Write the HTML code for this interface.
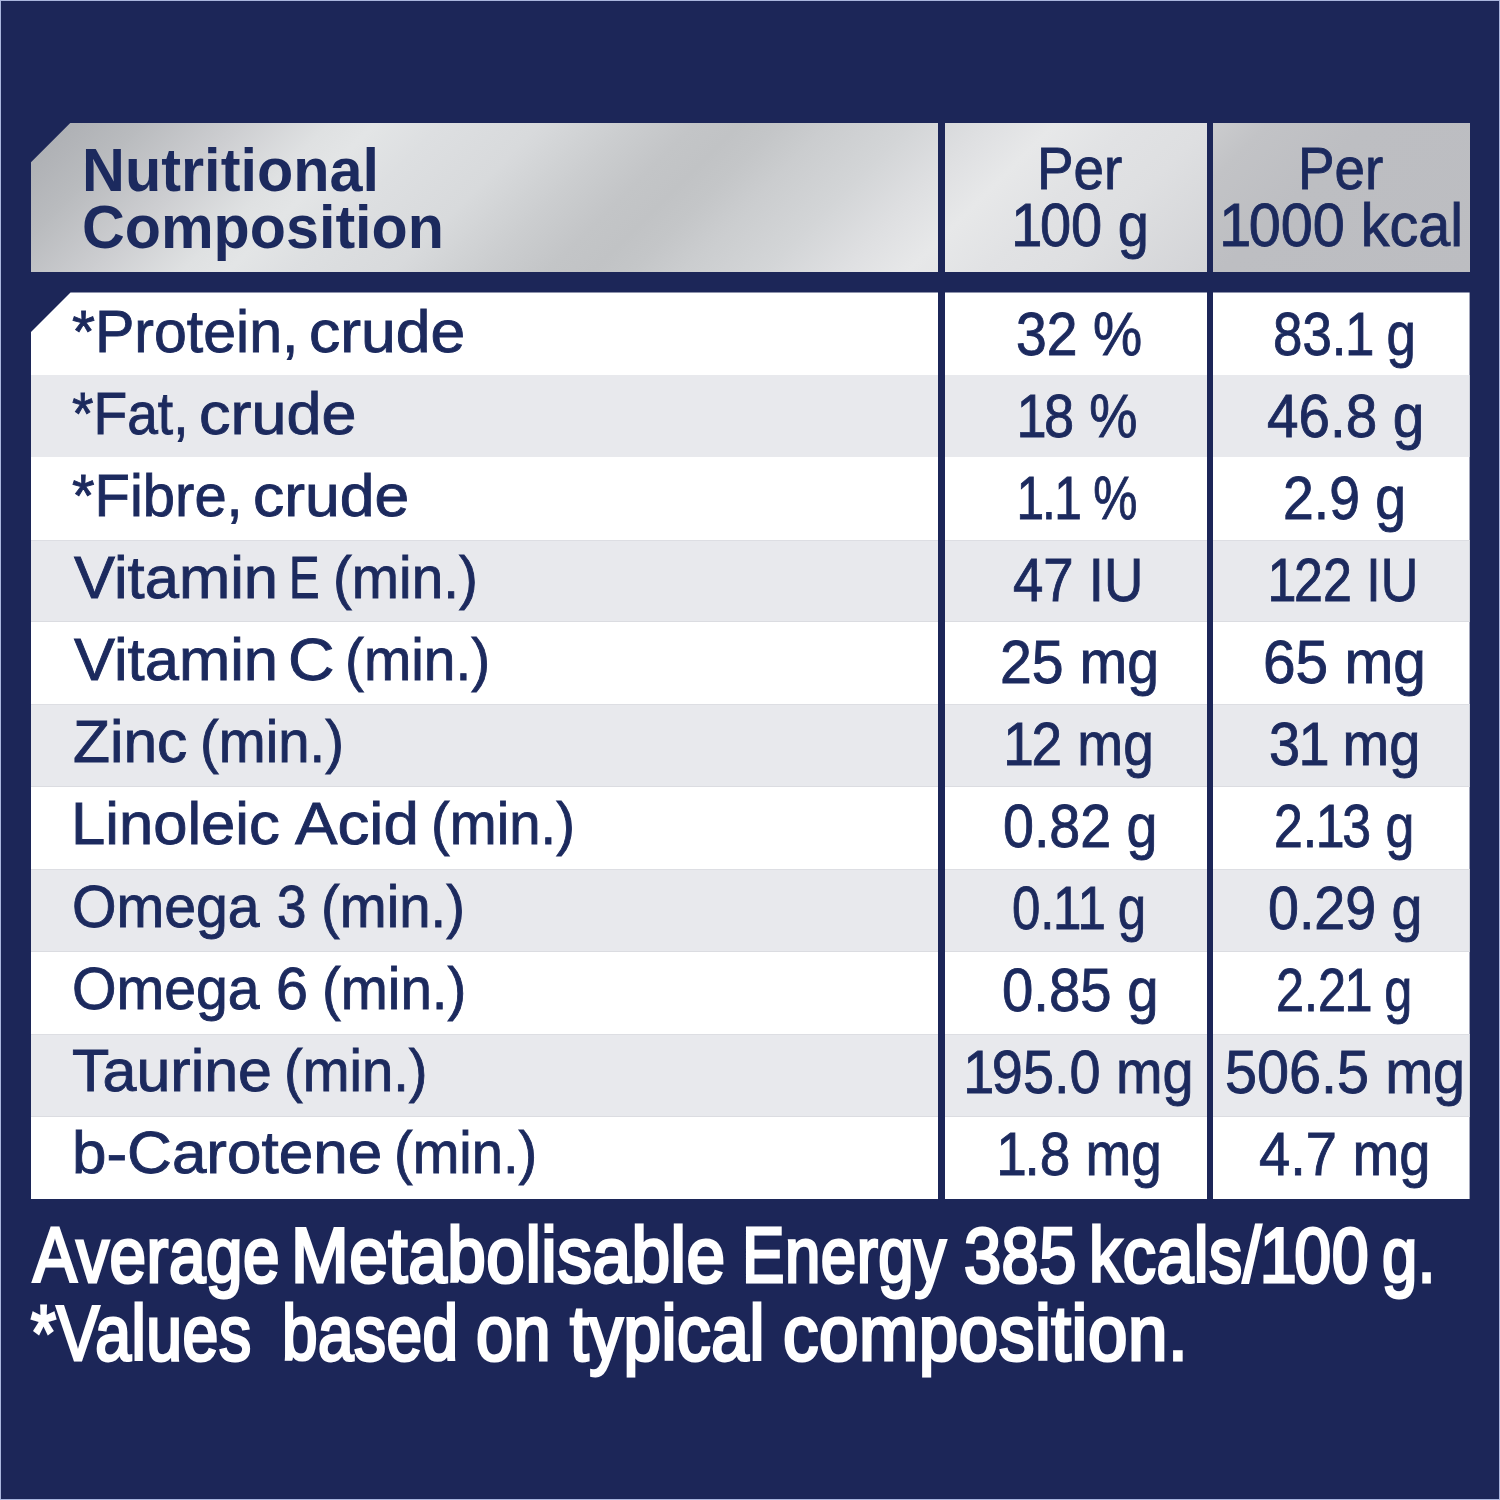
<!DOCTYPE html>
<html lang="en">
<head>
<meta charset="utf-8">
<title>Nutritional Composition</title>
<style>
html,body{margin:0;padding:0;}
body{width:1500px;height:1500px;position:relative;overflow:hidden;background:#1c2658;
  font-family:"Liberation Sans", Arial, Helvetica, sans-serif;color:#1c2a5e;}
.frame{position:absolute;left:0;top:0;width:1498px;height:1498px;border:1px solid #aab6de;pointer-events:none;}
.head{position:absolute;left:30.5px;top:122.8px;width:1176.5px;height:149.7px;
  background:linear-gradient(135deg,#aeb0b4 0px,#b0b2b6 33px,#b9bbbe 78px,#cdced1 149px,#dfe1e2 212px,#e3e5e6 244px,#dddfe1 291px,#d8dadc 361px,#cbcdcf 425px,#c3c5c7 470px,#c1c3c5 502px,#c4c6c8 530px,#cbcdcf 566px,#d3d5d7 623px,#dfe0e2 680px,#e7e8e9 725px,#e1e2e4 779px,#dedfe1 835px,#d2d3d6 940px,#c8c9cc 1202px);clip-path:polygon(40.0px 0,100% 0,100% 100%,0 100%,0 40.0px);}
.head3{position:absolute;left:1213.0px;top:122.8px;width:256.6px;height:149.7px;
  background:linear-gradient(135deg,#cbccce 0px,#c2c3c6 40px,#bdbec2 110px,#bcbdc1 300px);}
.body{position:absolute;left:30.5px;top:292.4px;width:1439.1px;height:906.6px;
  background:#fff;clip-path:polygon(40.0px 0,100% 0,100% 100%,0 100%,0 40.0px);}
.row{position:absolute;left:0;width:100%;height:82.42px;background:#e8e9ed;}
.row.e{box-shadow:inset 0 1px 0 #dddee3,inset 0 -1px 0 #dbdce1;}
.sep{position:absolute;top:122.8px;height:1076.2px;background:#1c2658;}
.g{margin:0;padding:0;height:0;}
.t{position:absolute;white-space:pre;line-height:1;transform-origin:0 0;margin:0;padding:0;}
.n1{margin-left:-0.03em;margin-right:-0.045em;}
</style>
</head>
<body>
<div class="head"></div>
<div class="head3"></div>
<div class="body">
<div class="row" style="top:82.42px"></div>
<div class="row e" style="top:247.25px"></div>
<div class="row e" style="top:412.09px"></div>
<div class="row e" style="top:576.93px"></div>
<div class="row e" style="top:741.76px"></div>
</div>
<div class="sep" style="left:938.0px;width:6.6px"></div>
<div class="sep" style="left:1207.0px;width:6.0px"></div>
<div class="g thead">
<span class="t" style="left:82.10px;top:139.75px;font-size:61px;font-weight:700;transform:scaleX(0.9741);">Nutritional</span>
<span class="t" style="left:81.79px;top:196.75px;font-size:61px;font-weight:700;transform:scaleX(0.9710);">Composition</span>
<span class="t" style="left:1036.75px;top:138.60px;font-size:60px;-webkit-text-stroke:0.9px;transform:scaleX(0.9135);">Per</span>
<span class="t" style="left:1012.77px;top:194.55px;font-size:61px;-webkit-text-stroke:0.9px;transform:scaleX(0.9168);"><span class="n1">1</span>00 g</span>
<span class="t" style="left:1298.25px;top:138.60px;font-size:60px;-webkit-text-stroke:0.9px;transform:scaleX(0.9135);">Per</span>
<span class="t" style="left:1220.51px;top:194.55px;font-size:61px;-webkit-text-stroke:0.9px;transform:scaleX(0.9430);"><span class="n1">1</span>000 kcal</span>
</div>
<div class="g tr">
<span class="t" style="left:71.82px;top:302.00px;font-size:60px;-webkit-text-stroke:0.9px;transform:scaleX(0.9839);">*Protein,</span>
<span class="t" style="left:309.12px;top:302.00px;font-size:60px;-webkit-text-stroke:0.9px;transform:scaleX(1.0411);">crude</span>
<span class="t" style="left:1015.59px;top:303.65px;font-size:61px;-webkit-text-stroke:0.9px;transform:scaleX(0.9067);">32 %</span>
<span class="t" style="left:1273.07px;top:303.65px;font-size:61px;-webkit-text-stroke:0.9px;transform:scaleX(0.8663);">83.<span class="n1">1</span> g</span>
</div>
<div class="g tr">
<span class="t" style="left:71.88px;top:384.08px;font-size:60px;-webkit-text-stroke:0.9px;transform:scaleX(0.9190);">*Fat,</span>
<span class="t" style="left:198.70px;top:384.08px;font-size:60px;-webkit-text-stroke:0.9px;transform:scaleX(1.0493);">crude</span>
<span class="t" style="left:1018.12px;top:385.73px;font-size:61px;-webkit-text-stroke:0.9px;transform:scaleX(0.8878);"><span class="n1">1</span>8 %</span>
<span class="t" style="left:1266.67px;top:385.73px;font-size:61px;-webkit-text-stroke:0.9px;transform:scaleX(0.9273);">46.8 g</span>
</div>
<div class="g tr">
<span class="t" style="left:71.83px;top:466.16px;font-size:60px;-webkit-text-stroke:0.9px;transform:scaleX(0.9661);">*Fibre,</span>
<span class="t" style="left:253.12px;top:466.16px;font-size:60px;-webkit-text-stroke:0.9px;transform:scaleX(1.0411);">crude</span>
<span class="t" style="left:1018.27px;top:467.81px;font-size:61px;-webkit-text-stroke:0.9px;transform:scaleX(0.8133);"><span class="n1">1</span>.<span class="n1">1</span> %</span>
<span class="t" style="left:1282.88px;top:467.81px;font-size:61px;-webkit-text-stroke:0.9px;transform:scaleX(0.9070);">2.9 g</span>
</div>
<div class="g tr">
<span class="t" style="left:74.00px;top:548.24px;font-size:60px;-webkit-text-stroke:0.9px;transform:scaleX(1.0256);">Vitamin</span>
<span class="t" style="left:288.94px;top:548.24px;font-size:60px;-webkit-text-stroke:0.9px;transform:scaleX(0.7647);">E</span>
<span class="t" style="left:333.17px;top:548.24px;font-size:60px;-webkit-text-stroke:0.9px;transform:scaleX(0.9442);">(min.)</span>
<span class="t" style="left:1012.91px;top:549.89px;font-size:61px;-webkit-text-stroke:0.9px;transform:scaleX(0.8936);">47 IU</span>
<span class="t" style="left:1268.80px;top:549.89px;font-size:61px;-webkit-text-stroke:0.9px;transform:scaleX(0.8521);"><span class="n1">1</span>22 IU</span>
</div>
<div class="g tr">
<span class="t" style="left:74.00px;top:630.32px;font-size:60px;-webkit-text-stroke:0.9px;transform:scaleX(1.0256);">Vitamin</span>
<span class="t" style="left:287.98px;top:630.32px;font-size:60px;-webkit-text-stroke:0.9px;transform:scaleX(1.0737);">C</span>
<span class="t" style="left:345.16px;top:630.32px;font-size:60px;-webkit-text-stroke:0.9px;transform:scaleX(0.9469);">(min.)</span>
<span class="t" style="left:1000.18px;top:631.97px;font-size:61px;-webkit-text-stroke:0.9px;transform:scaleX(0.9387);">25 mg</span>
<span class="t" style="left:1262.92px;top:631.97px;font-size:61px;-webkit-text-stroke:0.9px;transform:scaleX(0.9607);">65 mg</span>
</div>
<div class="g tr">
<span class="t" style="left:72.99px;top:712.40px;font-size:60px;-webkit-text-stroke:0.9px;transform:scaleX(1.0090);">Zinc</span>
<span class="t" style="left:200.38px;top:712.40px;font-size:60px;-webkit-text-stroke:0.9px;transform:scaleX(0.9388);">(min.)</span>
<span class="t" style="left:1004.80px;top:714.05px;font-size:61px;-webkit-text-stroke:0.9px;transform:scaleX(0.9013);"><span class="n1">1</span>2 mg</span>
<span class="t" style="left:1269.37px;top:714.05px;font-size:61px;-webkit-text-stroke:0.9px;transform:scaleX(0.9170);">3<span class="n1">1</span> mg</span>
</div>
<div class="g tr">
<span class="t" style="left:70.69px;top:794.48px;font-size:60px;-webkit-text-stroke:0.9px;transform:scaleX(1.0263);">Linoleic</span>
<span class="t" style="left:295.20px;top:794.48px;font-size:60px;-webkit-text-stroke:0.9px;transform:scaleX(1.0619);">Acid</span>
<span class="t" style="left:431.18px;top:794.48px;font-size:60px;-webkit-text-stroke:0.9px;transform:scaleX(0.9388);">(min.)</span>
<span class="t" style="left:1002.98px;top:796.13px;font-size:61px;-webkit-text-stroke:0.9px;transform:scaleX(0.9110);">0.82 g</span>
<span class="t" style="left:1274.05px;top:796.13px;font-size:61px;-webkit-text-stroke:0.9px;transform:scaleX(0.8500);">2.<span class="n1">1</span>3 g</span>
</div>
<div class="g tr">
<span class="t" style="left:72.09px;top:876.56px;font-size:60px;-webkit-text-stroke:0.9px;transform:scaleX(0.9538);">Omega</span>
<span class="t" style="left:277.43px;top:876.56px;font-size:60px;-webkit-text-stroke:0.9px;transform:scaleX(0.8828);">3</span>
<span class="t" style="left:321.18px;top:876.56px;font-size:60px;-webkit-text-stroke:0.9px;transform:scaleX(0.9388);">(min.)</span>
<span class="t" style="left:1012.13px;top:878.21px;font-size:61px;-webkit-text-stroke:0.9px;transform:scaleX(0.8361);">0.<span class="n1">1</span><span class="n1">1</span> g</span>
<span class="t" style="left:1267.58px;top:878.21px;font-size:61px;-webkit-text-stroke:0.9px;transform:scaleX(0.9110);">0.29 g</span>
</div>
<div class="g tr">
<span class="t" style="left:72.09px;top:958.64px;font-size:60px;-webkit-text-stroke:0.9px;transform:scaleX(0.9538);">Omega</span>
<span class="t" style="left:276.33px;top:958.64px;font-size:60px;-webkit-text-stroke:0.9px;transform:scaleX(0.9571);">6</span>
<span class="t" style="left:321.98px;top:958.64px;font-size:60px;-webkit-text-stroke:0.9px;transform:scaleX(0.9415);">(min.)</span>
<span class="t" style="left:1002.15px;top:960.29px;font-size:61px;-webkit-text-stroke:0.9px;transform:scaleX(0.9226);">0.85 g</span>
<span class="t" style="left:1275.92px;top:960.29px;font-size:61px;-webkit-text-stroke:0.9px;transform:scaleX(0.8264);">2.2<span class="n1">1</span> g</span>
</div>
<div class="g tr">
<span class="t" style="left:71.78px;top:1040.72px;font-size:60px;-webkit-text-stroke:0.9px;transform:scaleX(1.0165);">Taurine</span>
<span class="t" style="left:284.39px;top:1040.72px;font-size:60px;-webkit-text-stroke:0.9px;transform:scaleX(0.9361);">(min.)</span>
<span class="t" style="left:965.17px;top:1042.37px;font-size:61px;-webkit-text-stroke:0.9px;transform:scaleX(0.9148);"><span class="n1">1</span>95.0 mg</span>
<span class="t" style="left:1225.01px;top:1042.37px;font-size:61px;-webkit-text-stroke:0.9px;transform:scaleX(0.9442);">506.5 mg</span>
</div>
<div class="g tr">
<span class="t" style="left:72.10px;top:1122.80px;font-size:60px;-webkit-text-stroke:0.9px;transform:scaleX(1.0332);">b-Carotene</span>
<span class="t" style="left:394.00px;top:1122.80px;font-size:60px;-webkit-text-stroke:0.9px;transform:scaleX(0.9333);">(min.)</span>
<span class="t" style="left:997.60px;top:1124.45px;font-size:61px;-webkit-text-stroke:0.9px;transform:scaleX(0.9000);"><span class="n1">1</span>.8 mg</span>
<span class="t" style="left:1259.48px;top:1124.45px;font-size:61px;-webkit-text-stroke:0.9px;transform:scaleX(0.9198);">4.7 mg</span>
</div>
<div class="g note">
<span class="t" style="left:32.71px;top:1216.71px;font-size:77px;-webkit-text-stroke:3.0px;letter-spacing:0.6px;transform:scaleX(0.8529);color:#ffffff;">Average</span>
<span class="t" style="left:290.50px;top:1216.71px;font-size:77px;-webkit-text-stroke:3.0px;letter-spacing:0.6px;transform:scaleX(0.9000);color:#ffffff;">Metabolisable</span>
<span class="t" style="left:741.87px;top:1216.71px;font-size:77px;-webkit-text-stroke:3.0px;letter-spacing:0.6px;transform:scaleX(0.8258);color:#ffffff;">Energy</span>
<span class="t" style="left:964.13px;top:1216.71px;font-size:77px;-webkit-text-stroke:3.0px;letter-spacing:0.6px;transform:scaleX(0.8661);color:#ffffff;">385</span>
<span class="t" style="left:1089.05px;top:1216.71px;font-size:77px;-webkit-text-stroke:3.0px;letter-spacing:0.6px;transform:scaleX(0.8621);color:#ffffff;">kcals/<span class="n1">1</span>00</span>
<span class="t" style="left:1382.35px;top:1216.71px;font-size:77px;-webkit-text-stroke:3.0px;letter-spacing:0.6px;transform:scaleX(0.8246);color:#ffffff;">g.</span>
</div>
<div class="g note">
<span class="t" style="left:31.00px;top:1294.71px;font-size:77px;-webkit-text-stroke:3.0px;letter-spacing:0.6px;transform:scaleX(0.8359);color:#ffffff;">*Values</span>
<span class="t" style="left:281.51px;top:1294.71px;font-size:77px;-webkit-text-stroke:3.0px;letter-spacing:0.6px;transform:scaleX(0.8301);color:#ffffff;">based</span>
<span class="t" style="left:475.77px;top:1294.71px;font-size:77px;-webkit-text-stroke:3.0px;letter-spacing:0.6px;transform:scaleX(0.8642);color:#ffffff;">on</span>
<span class="t" style="left:570.00px;top:1294.71px;font-size:77px;-webkit-text-stroke:3.0px;letter-spacing:0.6px;transform:scaleX(0.8761);color:#ffffff;">typical</span>
<span class="t" style="left:783.16px;top:1294.71px;font-size:77px;-webkit-text-stroke:3.0px;letter-spacing:0.6px;transform:scaleX(0.9223);color:#ffffff;">composition.</span>
</div>
<div class="frame"></div>
</body>
</html>
